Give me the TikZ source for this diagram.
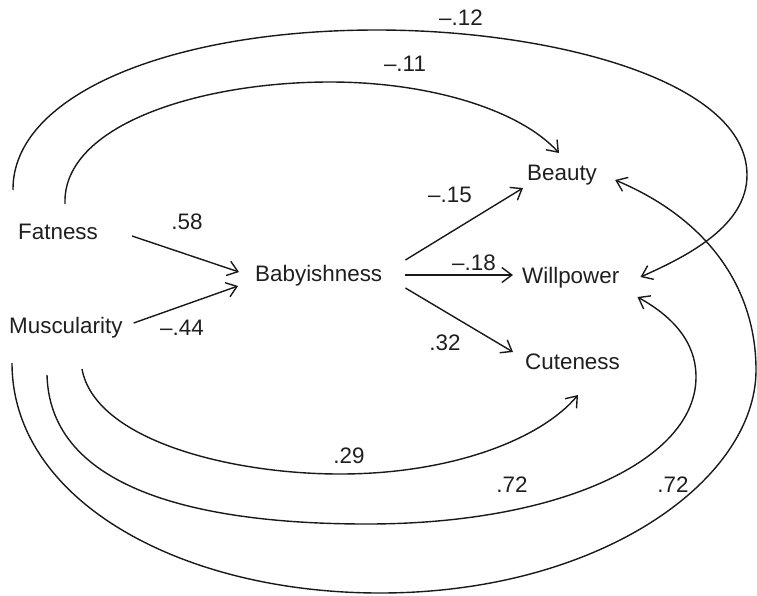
\documentclass[tikz,border=0pt]{standalone}
\usepackage{fontspec}
\setmainfont{Liberation Sans}
\usetikzlibrary{arrows.meta,calc}

\begin{document}
\begin{tikzpicture}[
    x=1pt, y=-1pt,
    >={Straight Barb[length=10pt,width=15pt]},
    every node/.style={font=\fontsize{22.4}{26}\selectfont, text=black!88},
    var/.style={inner sep=0pt, anchor=base west},
    coef/.style={inner sep=0pt},
    link/.style={->, line width=1.4pt, black!90},
]
\useasboundingbox (0,0) rectangle (757,595);

% --- Variables ---
\node[var] (fat)    at (18,239)  {Fatness};
\node[var] (musc)   at (9,333)   {Muscularity};
\node[var] (baby)   at (255,281) {Babyishness};
\node[var] (beauty) at (527,180) {Beauty};
\node[var] (will)   at (522,283) {Willpower};
\node[var] (cute)   at (525,369) {Cuteness};

% --- Direct paths ---
\draw[link] ($(fat.base east)+(34,-3)$) -- ($(baby.base west)+(-16,-9)$);
\draw[link] ($(musc.base east)+(11,-10)$) -- ($(baby.base west)+(-17,5)$);
\draw[link] ($(baby.base east)+(23,-21)$) -- ($(beauty.base west)+(-4,8)$);
\draw[link] ($(baby.base east)+(23,-6)$) -- ($(will.base west)+(-9,-8)$);
\draw[link] ($(baby.base east)+(23,7)$) -- ($(cute.base west)+(-12,-17)$);

% --- Curved paths ---
\draw[link] ($(fat.base west)+(-5,-49)$)
    .. controls (12,95) and (170,30) .. (377,30)
    .. controls (550,30) and (747,80) .. (747,175)
    .. controls (747,225) and (690,255) .. ($(will.base east)+(21,-6)$);
\draw[link] ($(fat.base west)+(47,-35)$)
    .. controls (62,125) and (200,82) .. (330,82)
    .. controls (430,82) and (520,110) .. ($(beauty.base west)+(32,-27)$);
\draw[link] ($(musc.base west)+(73,36)$)
    .. controls (95,440) and (230,474) .. (340,474)
    .. controls (450,474) and (540,440) .. ($(cute.base west)+(53,26)$);
\draw[link] ($(musc.base west)+(38,42)$)
    .. controls (50,490) and (200,524) .. (367,524)
    .. controls (560,524) and (696,460) .. (696,377)
    .. controls (696,340) and (670,315) .. ($(will.base east)+(18,14)$);
\draw[link] ($(musc.base west)+(3,30)$)
    .. controls (12,500) and (180,593) .. (380,593)
    .. controls (600,593) and (756,480) .. (756,370)
    .. controls (756,290) and (710,220) .. ($(beauty.base east)+(18,0)$);

% --- Coefficients ---
\node[coef] (c58)  at (187,222) {.58};
\node[coef] (c44)  at (182,328) {\textendash.44};
\node[coef] (c15)  at (450,195) {\textendash.15};
\node[coef] (c18)  at (474,263) {\textendash.18};
\node[coef] (c32)  at (445,343) {.32};
\node[coef] (c12)  at (461,18)  {\textendash.12};
\node[coef] (c11)  at (405,64)  {\textendash.11};
\node[coef] (c29)  at (349,456) {.29};
\node[coef] (c72a) at (512,485) {.72};
\node[coef] (c72b) at (673,485) {.72};

\end{tikzpicture}
\end{document}
